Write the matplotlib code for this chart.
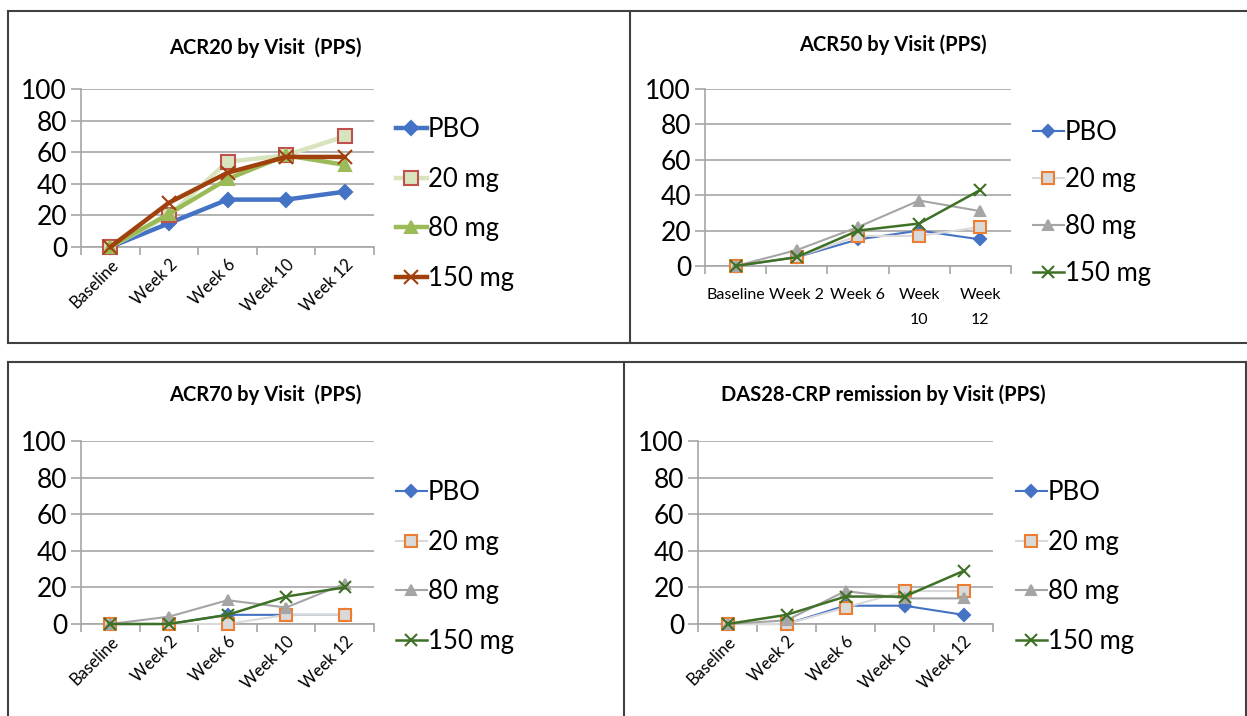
import numpy as np
import matplotlib
matplotlib.use("Agg")
import matplotlib.pyplot as plt
from matplotlib.lines import Line2D

plt.rcParams['font.family'] = ['Lato', 'DejaVu Sans']

visits = ["Baseline", "Week 2", "Week 6", "Week 10", "Week 12"]
visits_wrap = ["Baseline", "Week 2", "Week 6", "Week\n10", "Week\n12"]
groups = ["PBO", "20 mg", "80 mg", "150 mg"]

# values (%)
acr20_pbo = [0, 15, 30, 30, 35]
acr20_20 = [0, 20, 54, 58, 70]
acr20_80 = [0, 21, 43, 58, 52]
acr20_150 = [0, 28, 47, 57, 57]

acr50_pbo = [0, 5, 15, 20, 15]
acr50_20 = [0, 5, 17, 17, 22]
acr50_80 = [0, 9, 22, 37, 31]
acr50_150 = [0, 5, 20, 24, 43]

acr70_pbo = [0, 0, 5, 5, 5]
acr70_20 = [0, 0, 0, 5, 5]
acr70_80 = [0, 4, 13, 9, 22]
acr70_150 = [0, 0, 5, 15, 20]

das_pbo = [0, 0, 10, 10, 5]
das_20 = [0, 0, 9, 18, 18]
das_80 = [0, 2, 18, 14, 14]
das_150 = [0, 5, 15, 15, 29]

W, H = 1247, 716
fig = plt.figure(figsize=(W / 100, H / 100), dpi=100)


def fx(x):
    return x / W


def fy(y):
    return 1 - y / H


def panel(left, right, top, bottom):
    return fig.add_axes([fx(left), fy(bottom), fx(right - left), (bottom - top) / H])


# styles: (color, marker, markerface, markeredge, linewidth, markersize)
style_a = [
    ("#4472C4", "D", "#4472C4", "#4472C4", 3.2, 7),
    ("#D7E4BD", "s", "#D7E4BD", "#C0504D", 3.2, 10),
    ("#9BBB59", "^", "#9BBB59", "#9BBB59", 3.2, 9),
    ("#A0410D", "x", "#A0410D", "#A0410D", 3.2, 10),
]
style_b = [
    ("#4472C4", "D", "#4472C4", "#4472C4", 1.5, 6),
    ("#D9D9D9", "s", "#D9D9D9", "#ED7D31", 1.5, 9),
    ("#A5A5A5", "^", "#A5A5A5", "#A5A5A5", 1.5, 7),
    ("#3E7026", "x", "#3E7026", "#3E7026", 1.8, 9),
]


def draw(ax, series, styles, title, title_xy, leg_x, leg_y, rotate=True, labels=visits,
         spacing=0.95):
    x = np.arange(len(visits))
    for vals, name, st in zip(series, groups, styles):
        c, m, mf, me, lw, ms = st
        ax.plot(x, vals, color=c, marker=m, markerfacecolor=mf, markeredgecolor=me,
                markeredgewidth=1.5, lw=lw, ms=ms, label=name, clip_on=False, zorder=3)
    ax.set_xlim(-0.5, 4.5)
    ax.set_ylim(0, 100)
    ax.set_yticks(range(0, 101, 20))
    ax.yaxis.grid(True, color="#A6A6A6", lw=1.2)
    ax.set_axisbelow(True)
    for s in ["top", "right"]:
        ax.spines[s].set_visible(False)
    ax.spines["left"].set_color("#A6A6A6")
    ax.spines["bottom"].set_color("#A6A6A6")
    ax.spines["left"].set_linewidth(1.2)
    ax.spines["bottom"].set_linewidth(1.2)
    ax.set_xticks(np.arange(-0.5, 5, 1))
    ax.set_xticklabels([])
    ax.set_xticks(x, minor=True)
    if rotate:
        ax.set_xticklabels(labels, minor=True, rotation=45, ha="right",
                           rotation_mode="anchor", fontsize=12)
        ax.tick_params(axis="x", which="minor", length=0, pad=7)
    else:
        ax.set_xticklabels(labels, minor=True, fontsize=11.5, linespacing=2.0)
        ax.tick_params(axis="x", which="minor", length=0, pad=16)
    ax.tick_params(axis="x", which="major", length=6, color="#A6A6A6", width=1.2)
    ax.tick_params(axis="y", length=7, color="#A6A6A6", width=1.2, labelsize=19, pad=3)
    fig.text(fx(title_xy[0]), fy(title_xy[1]), title, ha="center", va="center",
             fontsize=14.5, fontweight="bold")
    ax.legend(loc="center left", bbox_to_anchor=(fx(leg_x), fy(leg_y)),
              bbox_transform=fig.transFigure, frameon=False, fontsize=18.5,
              handlelength=1.2, handletextpad=0.05, labelspacing=spacing,
              borderaxespad=0, borderpad=0)


ax1 = panel(81, 374, 89, 247)
draw(ax1, [acr20_pbo, acr20_20, acr20_80, acr20_150], style_a,
     "ACR20 by Visit  (PPS)", (265, 48), 396, 204)

ax2 = panel(705, 1011, 89, 266)
draw(ax2, [acr50_pbo, acr50_20, acr50_80, acr50_150], style_b,
     "ACR50 by Visit (PPS)", (893, 45), 1033, 203, rotate=False, labels=visits_wrap,
     spacing=0.85)

ax3 = panel(81, 374, 441, 624)
draw(ax3, [acr70_pbo, acr70_20, acr70_80, acr70_150], style_b,
     "ACR70 by Visit  (PPS)", (265, 395), 396, 567)

ax4 = panel(698, 993, 441, 624)
draw(ax4, [das_pbo, das_20, das_80, das_150], style_b,
     "DAS28-CRP remission by Visit (PPS)", (883, 395), 1016, 567)

# panel frames
frame = "#404040"
segs = [
    ((8, 11), (1247, 11)), ((8, 11), (8, 343)), ((8, 343), (1247, 343)), ((630, 11), (630, 343)),
    ((8, 362), (1247, 362)), ((8, 362), (8, 716)), ((624, 362), (624, 716)), ((1246, 362), (1246, 716)),
]
for (x0, y0), (x1, y1) in segs:
    fig.add_artist(Line2D([fx(x0), fx(x1)], [fy(y0), fy(y1)], color=frame, lw=1.5,
                          transform=fig.transFigure))

fig.savefig("out.png", dpi=100, facecolor="white")
